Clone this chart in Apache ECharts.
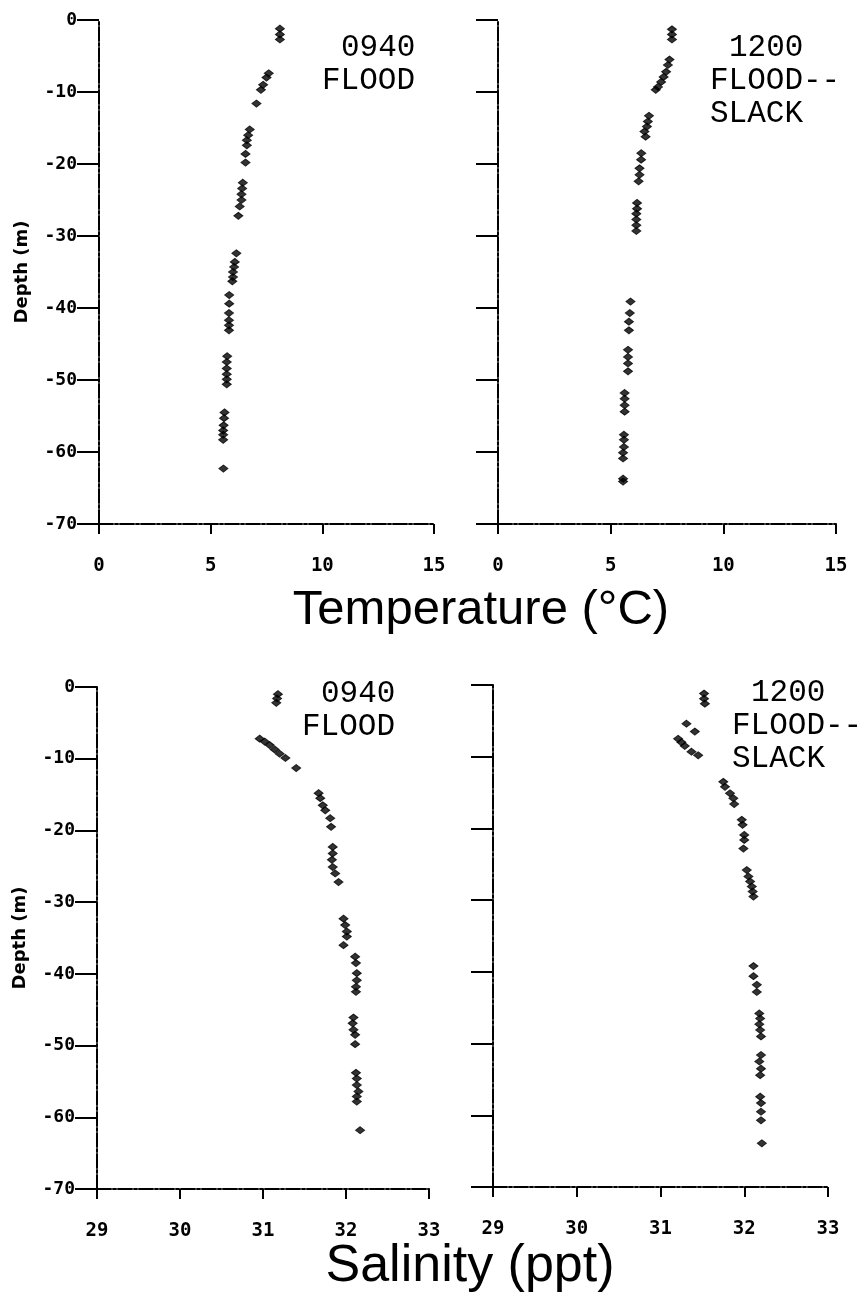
<!DOCTYPE html>
<html>
<head>
<meta charset="utf-8">
<script src="https://cdn.jsdelivr.net/npm/echarts@6/dist/echarts.min.js"></script>
<style>html,body{margin:0;padding:0;background:#fff}#c{width:864px;height:1300px}</style>
</head>
<body>
<div id="c"></div>
<script>
// ---- data ----
const depthTicks = [0, -10, -20, -30, -40, -50, -60, -70];
const tempTicks = [0, 5, 10, 15];
const salTicks = [29, 30, 31, 32, 33];

const temp0940 = [8.1,8.1,8.1,7.6,7.5,7.35,7.25,7.05,6.75,6.68,6.62,6.62,6.56,6.56,6.44,6.41,6.38,6.38,6.3,6.24,6.15,6.08,6.05,6.0,6.0,5.97,5.83,5.83,5.82,5.82,5.82,5.82,5.74,5.72,5.72,5.72,5.72,5.72,5.62,5.6,5.58,5.56,5.56,5.56,5.57];
const temp0940Depth = [-1.2,-2.0,-2.7,-7.4,-8.0,-9.0,-9.7,-11.6,-15.2,-16.0,-16.7,-17.4,-18.6,-19.8,-22.6,-23.4,-24.2,-25.0,-25.9,-27.2,-32.4,-33.6,-34.3,-35.0,-35.7,-36.3,-38.2,-39.4,-40.7,-41.7,-42.4,-43.1,-46.7,-47.5,-48.4,-49.2,-49.9,-50.6,-54.5,-55.3,-56.3,-57.0,-57.6,-58.3,-62.3];

const temp1200 = [7.72,7.72,7.72,7.61,7.54,7.46,7.35,7.24,7.1,7.0,6.7,6.65,6.61,6.5,6.55,6.36,6.35,6.28,6.28,6.24,6.17,6.17,6.14,6.14,6.14,6.14,5.88,5.85,5.81,5.81,5.77,5.77,5.77,5.77,5.62,5.62,5.62,5.62,5.59,5.59,5.59,5.55,5.55,5.55,5.55];
const temp1200Depth = [-1.3,-2.0,-2.7,-5.5,-6.25,-7.2,-7.9,-8.6,-9.3,-9.7,-13.3,-14.1,-14.8,-15.5,-16.2,-18.5,-19.4,-20.6,-21.5,-22.4,-25.4,-26.2,-26.9,-27.7,-28.5,-29.3,-39.1,-40.7,-41.9,-43.1,-45.8,-46.8,-47.7,-48.8,-51.8,-52.6,-53.5,-54.4,-57.6,-58.3,-59.3,-60.1,-60.9,-63.7,-64.1];

const sal0940 = [31.18,31.17,31.16,30.96,31.02,31.08,31.14,31.2,31.27,31.4,31.67,31.69,31.72,31.75,31.81,31.82,31.84,31.84,31.83,31.84,31.87,31.91,31.97,31.99,32.01,32.01,31.97,32.11,32.12,32.13,32.13,32.12,32.12,32.09,32.08,32.09,32.11,32.11,32.12,32.13,32.13,32.15,32.13,32.13,32.17];
const sal0940Depth = [-1.0,-1.6,-2.2,-7.2,-7.6,-8.1,-8.7,-9.3,-9.9,-11.3,-14.8,-15.5,-16.5,-17.2,-18.3,-19.5,-22.3,-23.2,-24.1,-25.1,-26.0,-27.2,-32.3,-33.2,-34.1,-34.8,-36.0,-37.6,-38.5,-39.9,-40.9,-41.8,-42.5,-46.1,-46.9,-47.8,-48.5,-49.8,-53.8,-54.6,-55.5,-56.4,-57.1,-57.8,-61.8];

const sal1200 = [31.52,31.52,31.53,31.31,31.41,31.21,31.25,31.29,31.37,31.45,31.75,31.77,31.83,31.87,31.88,31.97,31.98,32.0,32.0,31.99,32.03,32.05,32.07,32.09,32.1,32.11,32.11,32.11,32.15,32.15,32.18,32.19,32.18,32.19,32.2,32.2,32.18,32.2,32.19,32.19,32.2,32.2,32.2,32.21];
const sal1200Depth = [-1.2,-1.9,-2.6,-5.4,-6.5,-7.5,-8.0,-8.5,-9.3,-9.8,-13.5,-14.2,-15.1,-15.8,-16.6,-18.8,-19.5,-20.9,-21.6,-22.8,-25.8,-26.7,-27.4,-28.1,-28.8,-29.5,-39.2,-40.6,-41.8,-42.8,-45.8,-46.5,-47.3,-48.1,-49.0,-51.6,-52.5,-53.5,-54.4,-57.4,-58.3,-59.5,-60.7,-63.9];

const panelLabels = [['0940', 'FLOOD'], ['1200', 'FLOOD--', 'SLACK'], ['0940', 'FLOOD'], ['1200', 'FLOOD--', 'SLACK']];
const tempTitle = 'Temperature (°C)';
const salTitle = 'Salinity (ppt)';
const depthName = 'Depth (m)';

// ---- chart ----
const pairs = (xs, ys) => xs.map((v, i) => [v, ys[i]]);
const lineStyle = { color: '#000', width: 2, type: [14, 2, 3, 2] };
const tickFont = { color: '#000', fontFamily: 'DejaVu Sans Mono', fontWeight: 'bold' };

function xAxis(gi, ticks) {
  return {
    type: 'value', gridIndex: gi, min: ticks[0], max: ticks[ticks.length - 1], interval: ticks[1] - ticks[0],
    splitLine: { show: false },
    axisLine: { show: true, onZero: false, lineStyle: lineStyle },
    axisTick: { show: true, length: 10, lineStyle: { color: '#000', width: 2 } },
    axisLabel: Object.assign({ margin: 33, fontSize: 19 }, tickFont)
  };
}
function yAxis(gi, showLabels) {
  return {
    type: 'value', gridIndex: gi, min: depthTicks[depthTicks.length - 1], max: depthTicks[0], interval: 10,
    splitLine: { show: false },
    axisLine: { show: true, onZero: false, lineStyle: lineStyle },
    axisTick: { show: true, length: 22, lineStyle: { color: '#000', width: 2 } },
    axisLabel: Object.assign({ show: showLabels, margin: 22, fontSize: 18 }, tickFont),
    name: showLabels ? depthName : '',
    nameLocation: 'middle', nameGap: 68,
    nameTextStyle: { color: '#000', fontFamily: 'DejaVu Sans', fontWeight: 'bold', fontSize: 18 }
  };
}
function scatter(gi, data) {
  return { type: 'scatter', xAxisIndex: gi, yAxisIndex: gi, data: data, symbol: 'diamond', symbolSize: [9, 7],
    itemStyle: { color: '#000', borderColor: '#000', borderWidth: 1 }, silent: true, animation: false };
}
function annot(lines, x, y, firstIndent) {
  return lines.map((t, i) => ({
    type: 'text', left: x + (i === 0 ? firstIndent : 0), top: y + i * 33,
    style: { text: t, fontFamily: 'Liberation Mono', fontSize: 31, fill: '#000' }
  }));
}

const chart = echarts.init(document.getElementById('c'), null, { renderer: 'canvas' });
chart.setOption({
  animation: false,
  backgroundColor: '#fff',
  grid: [
    { left: 99, right: 430, top: 20, bottom: 776 },
    { left: 498, right: 28, top: 20, bottom: 776 },
    { left: 97, right: 435, top: 687, bottom: 111 },
    { left: 493, right: 36, top: 685, bottom: 113 }
  ],
  xAxis: [xAxis(0, tempTicks), xAxis(1, tempTicks), xAxis(2, salTicks), xAxis(3, salTicks)],
  yAxis: [yAxis(0, true), yAxis(1, false), yAxis(2, true), yAxis(3, false)],
  series: [
    scatter(0, pairs(temp0940, temp0940Depth)),
    scatter(1, pairs(temp1200, temp1200Depth)),
    scatter(2, pairs(sal0940, sal0940Depth)),
    scatter(3, pairs(sal1200, sal1200Depth))
  ],
  title: [
    { text: tempTitle, left: 476, top: 581, textAlign: 'center',
      textStyle: { fontFamily: 'Liberation Sans', fontSize: 49, fontWeight: 'normal', color: '#000' } },
    { text: salTitle, left: 465, top: 1236, textAlign: 'center',
      textStyle: { fontFamily: 'Liberation Sans', fontSize: 52, fontWeight: 'normal', color: '#000' } }
  ],
  graphic: [].concat(
    annot(panelLabels[0], 322, 32, 19),
    annot(panelLabels[1], 710, 32, 19),
    annot(panelLabels[2], 302, 678, 19),
    annot(panelLabels[3], 732, 677, 19)
  )
});
</script>
</body>
</html>
